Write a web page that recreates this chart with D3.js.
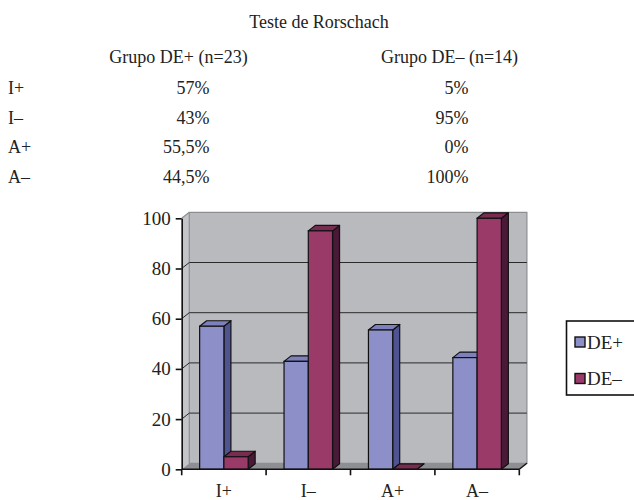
<!DOCTYPE html>
<html>
<head>
<meta charset="utf-8">
<script src="https://cdn.jsdelivr.net/npm/d3@7"></script>
<style>
  body { margin: 0; background: #fff; }
  text { font-family: "Liberation Serif", "Times New Roman", serif; fill: #222; }
</style>
</head>
<body>
<div id="chart"></div>
<script>
// data
var categories = ["I+", "I\u2013", "A+", "A\u2013"];
var seriesNames = ["DE+", "DE\u2013"];
var dePlus = [57, 43, 55.5, 44.5];
var deMinus = [5, 95, 0, 100];
var yTicks = [0, 20, 40, 60, 80, 100];
var tableTitle = "Teste de Rorschach";
var tableHeaders = ["Grupo DE+ (n=23)", "Grupo DE\u2013 (n=14)"];

var colors = {
    "DE+": { front: "#8c8fc8", side: "#4f5491", top: "#7d80bd" },
    "DE\u2013": { front: "#993a69", side: "#4a1937", top: "#7a2b52" }
};

var svg = d3.select("#chart").append("svg")
    .attr("width", 634)
    .attr("height", 500);

// ---- table at the top ----
var pct = v => String(v).replace(".", ",") + "%";

svg.append("text")
    .attr("x", 319).attr("y", 28)
    .attr("text-anchor", "middle")
    .style("font-size", "18px")
    .text(tableTitle);

svg.selectAll(".hdr")
    .data(tableHeaders)
    .enter().append("text")
    .attr("x", (d, i) => [178.5, 449.5][i])
    .attr("y", 63)
    .attr("text-anchor", "middle")
    .style("font-size", "18px")
    .text(d => d);

var rows = svg.selectAll(".row")
    .data(categories)
    .enter().append("g")
    .attr("transform", (d, i) => `translate(0, ${94 + i * 29.5})`);

rows.append("text").attr("x", 8).style("font-size", "18px").text(d => d);
rows.append("text").attr("x", 209.5).attr("text-anchor", "end")
    .style("font-size", "18px").text((d, i) => pct(dePlus[i]));
rows.append("text").attr("x", 468.5).attr("text-anchor", "end")
    .style("font-size", "18px").text((d, i) => pct(deMinus[i]));

// ---- 3D column chart ----
var plotL = 181.7, plotR = 519.3, plotB = 469.3, plotT = 218.3;
var wallDx = 7.6, wallDy = -6;
var barDx = 7, barDy = -5.5;

var y = d3.scaleLinear().domain([0, 100]).range([plotB, plotT]);
var x0 = d3.scaleBand().domain(categories).range([plotL, plotR]);
var x1 = d3.scaleBand().domain(seriesNames).range([0, x0.bandwidth()]).paddingOuter(0.74);

var poly = pts => pts.map(p => p.join(",")).join(" ");

// left side wall
svg.append("polygon")
    .attr("points", poly([[plotL, plotB], [plotL, plotT], [plotL + wallDx, plotT + wallDy], [plotL + wallDx, plotB + wallDy]]))
    .attr("fill", "#c4c5c8");
// back wall
svg.append("polygon")
    .attr("points", poly([[plotL + wallDx, plotT + wallDy], [plotR + wallDx, plotT + wallDy], [plotR + wallDx, plotB + wallDy], [plotL + wallDx, plotB + wallDy]]))
    .attr("fill", "#b9babe")
    .attr("stroke", "#8d8e92")
    .attr("stroke-width", 1.2);
// edge from axis top to wall
svg.append("line")
    .attr("x1", plotL).attr("y1", plotT).attr("x2", plotL + wallDx).attr("y2", plotT + wallDy)
    .attr("stroke", "#8d8e92").attr("stroke-width", 1.2);

// gridlines (diagonal on the side wall, then across the back wall)
svg.selectAll(".grid")
    .data(yTicks.filter(t => t > 0 && t < 100))
    .enter().append("polyline")
    .attr("points", d => poly([[plotL, y(d)], [plotL + wallDx, y(d) + wallDy], [plotR + wallDx, y(d) + wallDy]]))
    .attr("fill", "none")
    .attr("stroke", "#2a2a2a")
    .attr("stroke-width", 1);

// floor
svg.append("polygon")
    .attr("points", poly([[plotL, plotB], [plotL + wallDx, plotB + wallDy], [plotR + wallDx, plotB + wallDy], [plotR, plotB]]))
    .attr("fill", "#8e8f92");

// bars
var barData = [];
categories.forEach((c, i) => {
    barData.push({ cat: c, s: seriesNames[0], v: dePlus[i] });
    barData.push({ cat: c, s: seriesNames[1], v: deMinus[i] });
});

var bars = svg.selectAll(".bar")
    .data(barData)
    .enter().append("g")
    .attr("class", "bar");

bars.each(function (d) {
    var g = d3.select(this);
    var xl = x0(d.cat) + x1(d.s);
    var xr = xl + x1.bandwidth();
    var yt = y(d.v);
    var col = colors[d.s];
    // side
    g.append("polygon")
        .attr("points", poly([[xr, plotB], [xr, yt], [xr + barDx, yt + barDy], [xr + barDx, plotB + barDy]]))
        .attr("fill", col.side).attr("stroke", "#111").attr("stroke-width", 1.2)
        .attr("stroke-linejoin", "round");
    // top
    g.append("polygon")
        .attr("points", poly([[xl, yt], [xr, yt], [xr + barDx, yt + barDy], [xl + barDx, yt + barDy]]))
        .attr("fill", col.top).attr("stroke", "#111").attr("stroke-width", 1.2)
        .attr("stroke-linejoin", "round");
    // front
    if (d.v > 0) {
        g.append("rect")
            .attr("x", xl).attr("y", yt)
            .attr("width", xr - xl).attr("height", plotB - yt)
            .attr("fill", col.front).attr("stroke", "#111").attr("stroke-width", 1.2);
    }
});

// y axis
var yAxis = svg.append("g")
    .attr("transform", `translate(${plotL},0)`)
    .call(d3.axisLeft(y).tickValues(yTicks).tickSize(6).tickSizeOuter(0).tickPadding(5));
yAxis.select(".domain").attr("stroke", "#111").attr("stroke-width", 1.6);
yAxis.selectAll(".tick line").attr("stroke", "#111").attr("stroke-width", 1.6);
yAxis.selectAll(".tick text")
    .style("font-size", "19px")
    .style("font-family", "Liberation Serif, serif")
    .attr("fill", "#222");

// x axis
var xAxis = svg.append("g")
    .attr("transform", `translate(0,${plotB})`)
    .call(d3.axisBottom(x0).tickSize(0).tickSizeOuter(0).tickPadding(15));
xAxis.select(".domain").remove();
xAxis.selectAll(".tick text")
    .style("font-size", "18px")
    .style("font-family", "Liberation Serif, serif")
    .attr("fill", "#222");

svg.append("line")
    .attr("x1", plotL).attr("y1", plotB).attr("x2", plotR).attr("y2", plotB)
    .attr("stroke", "#111").attr("stroke-width", 1.6);
svg.append("line")
    .attr("x1", plotR).attr("y1", plotB).attr("x2", plotR + wallDx).attr("y2", plotB + wallDy)
    .attr("stroke", "#111").attr("stroke-width", 1.4);

var bounds = categories.map(c => x0(c)).concat([plotR]);
svg.selectAll(".xtick")
    .data(bounds)
    .enter().append("line")
    .attr("x1", d => d).attr("x2", d => d)
    .attr("y1", plotB).attr("y2", plotB + 6)
    .attr("stroke", "#111").attr("stroke-width", 1.6);

// legend
var legend = svg.append("g");
legend.append("rect")
    .attr("x", 566.5).attr("y", 321)
    .attr("width", 80).attr("height", 74)
    .attr("fill", "#fff").attr("stroke", "#111").attr("stroke-width", 1.6);

var items = legend.selectAll(".item")
    .data(seriesNames)
    .enter().append("g")
    .attr("transform", (d, i) => `translate(575, ${337 + i * 36.5})`);
items.append("rect")
    .attr("width", 10).attr("height", 10)
    .attr("fill", d => colors[d].front)
    .attr("stroke", "#111").attr("stroke-width", 1.4);
items.append("text")
    .attr("x", 12).attr("y", 11.5)
    .style("font-size", "19px")
    .text(d => d);
</script>
</body>
</html>
